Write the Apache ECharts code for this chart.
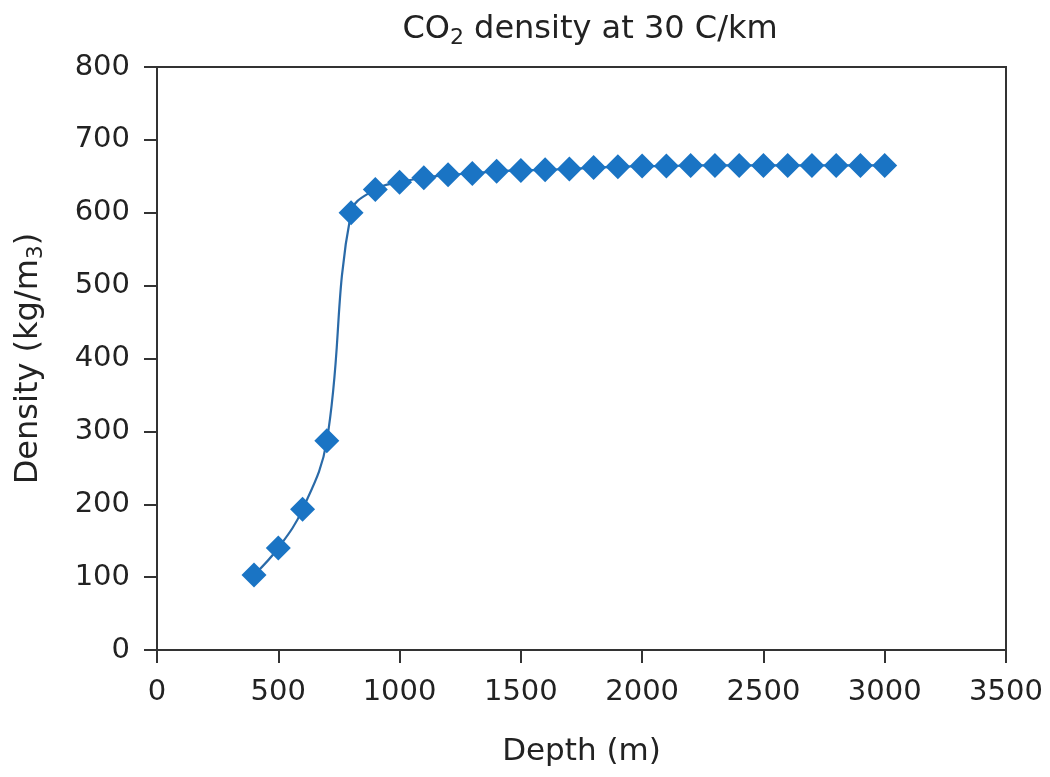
<!DOCTYPE html>
<html>
<head>
<meta charset="utf-8">
<script src="https://cdn.jsdelivr.net/npm/echarts@6/dist/echarts.min.js"></script>
<style>
html,body{margin:0;padding:0;background:#fff;}
#chart{width:1050px;height:777px;}
</style>
</head>
<body>
<div id="chart"></div>
<script>
const depths = [400,500,600,700,800,900,1000,1100,1200,1300,1400,1500,1600,1700,1800,1900,2000,2100,2200,2300,2400,2500,2600,2700,2800,2900,3000];
const densities = [103,140,193,287,600,632,642,648,652,654,657,658,659,660,662,663,664,664,665,665,665,665,665,665,665,665,665];
const xTicks = [0,500,1000,1500,2000,2500,3000,3500];
const yTicks = [0,100,200,300,400,500,600,700,800];

const chart = echarts.init(document.getElementById('chart'), null, {renderer:'canvas'});
const font = '"DejaVu Sans", Verdana, sans-serif';
const textColor = '#222';
chart.setOption({
  animation:false,
  backgroundColor:'#fff',
  title:{
    text:'CO{sub|2} density at 30 C/km',
    left:585, top:6, textAlign:'center',
    textStyle:{fontFamily:font,fontSize:32,fontWeight:'normal',color:textColor,
      rich:{sub:{fontFamily:font,fontSize:22,color:textColor,padding:[16,0,0,0]}}}
  },
  grid:{left:157,right:44,top:67,bottom:127,show:true,borderColor:'#333',borderWidth:2,backgroundColor:'transparent'},
  xAxis:{
    type:'value',min:xTicks[0],max:xTicks[xTicks.length-1],interval:500,
    name:'Depth (m)',nameLocation:'middle',nameGap:86,
    nameTextStyle:{fontFamily:font,fontSize:31,color:textColor},
    axisLine:{show:true,lineStyle:{color:'#333',width:2}},
    axisTick:{show:true,inside:false,length:13,lineStyle:{color:'#333',width:2}},
    axisLabel:{fontFamily:font,fontSize:29,color:textColor,margin:28,formatter:v=>String(v)},
    splitLine:{show:false}
  },
  yAxis:{
    type:'value',min:yTicks[0],max:yTicks[yTicks.length-1],interval:100,
    name:'Density (kg/m{sub|3})',nameLocation:'middle',nameGap:110,nameRotate:90,
    nameTextStyle:{fontFamily:font,fontSize:32,color:textColor,
      rich:{sub:{fontFamily:font,fontSize:22,color:textColor,padding:[15,0,0,0]}}},
    axisLine:{show:true,lineStyle:{color:'#333',width:2}},
    axisTick:{show:true,inside:false,length:13,lineStyle:{color:'#333',width:2}},
    axisLabel:{fontFamily:font,fontSize:29,color:textColor,margin:27,formatter:v=>String(v)},
    splitLine:{show:false}
  },
  series:[{
    type:'line',
    data:depths.map((d,i)=>[d,densities[i]]),
    smooth:0.4,
    symbol:'diamond',
    symbolSize:25,
    lineStyle:{color:'#2a6aa8',width:2.2},
    itemStyle:{color:'#1a74c4'}
  }]
});
</script>
</body>
</html>
